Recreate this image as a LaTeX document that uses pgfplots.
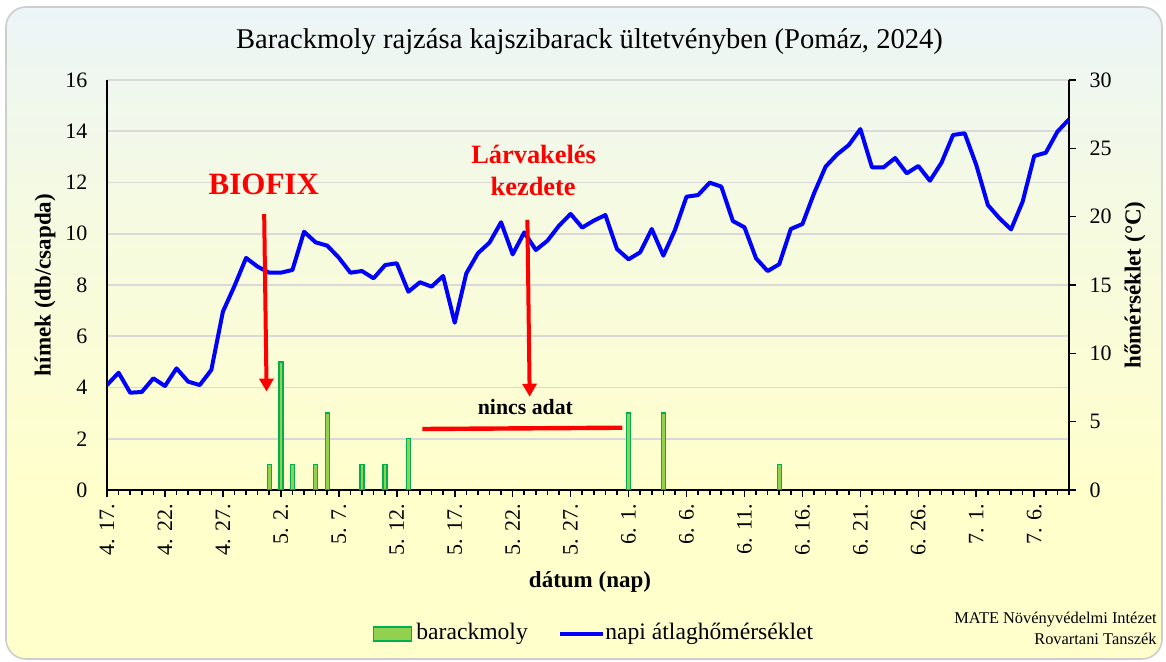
\documentclass[border=0pt]{standalone}
\usepackage{pgfplots}
\pgfplotsset{compat=1.18}
\usepackage{pgfplotstable}
\usepackage{fontspec}
\setmainfont{Liberation Serif}
\usetikzlibrary{arrows.meta}

\definecolor{barfill}{RGB}{146,208,80}
\definecolor{baredge}{RGB}{0,176,80}
\definecolor{gridc}{RGB}{217,217,217}
\definecolor{bgtop}{RGB}{236,245,247}
\definecolor{bgmid}{RGB}{245,250,226}
\definecolor{bgbot}{RGB}{255,255,204}
\definecolor{framec}{RGB}{205,205,205}

\pgfdeclareverticalshading{chartbg}{100bp}{color(0bp)=(bgbot); color(38bp)=(bgbot); color(60bp)=(bgmid); color(75bp)=(bgtop); color(100bp)=(bgtop)}

% day index: 0 = Apr 17
\pgfplotstableread{
x y
14 1
15 5
16 1
18 1
19 3
22 1
24 1
26 2
45 3
48 3
58 1
}\moths

\pgfplotstableread{
x t
0 7.68
1 8.58
2 7.12
3 7.17
4 8.17
5 7.61
6 8.90
7 7.93
8 7.68
9 8.78
10 13.05
11 14.93
12 16.98
13 16.34
14 15.90
15 15.90
16 16.10
17 18.90
18 18.12
19 17.88
20 17.00
21 15.90
22 16.02
23 15.49
24 16.46
25 16.59
26 14.51
27 15.20
28 14.88
29 15.66
30 12.24
31 15.85
32 17.32
33 18.10
34 19.59
35 17.24
36 18.85
37 17.56
38 18.24
39 19.34
40 20.20
41 19.20
42 19.71
43 20.12
44 17.63
45 16.88
46 17.39
47 19.10
48 17.15
49 19.02
50 21.46
51 21.58
52 22.49
53 22.20
54 19.68
55 19.22
56 16.95
57 16.02
58 16.52
59 19.10
60 19.46
61 21.70
62 23.66
63 24.56
64 25.24
65 26.41
66 23.61
67 23.61
68 24.29
69 23.17
70 23.71
71 22.63
72 23.95
73 25.98
74 26.10
75 23.78
76 20.85
77 19.88
78 19.07
79 21.10
80 24.44
81 24.68
82 26.22
83 27.12
}\temps

\begin{document}
\begin{tikzpicture}
\useasboundingbox (0,0) rectangle (583pt,331pt);
\fill[white] (0,0) rectangle (583pt,331pt);
\shade[shading=chartbg, rounded corners=10pt] (3pt,1.5pt) rectangle (581pt,327.5pt);
\draw[framec, line width=0.8pt, rounded corners=10pt] (3pt,1.5pt) rectangle (581pt,327.5pt);

\begin{axis}[
  at={(53.5pt,86pt)}, anchor=south west,
  scale only axis, width=481pt, height=205pt,
  xmin=0, xmax=83, ymin=0, ymax=16,
  axis x line*=bottom, axis y line*=left,
  axis line style={-, black, line width=0.9pt},
  xtick={0,5,...,80},
  xticklabels={4. 17.,4. 22.,4. 27.,5. 2.,5. 7.,5. 12.,5. 17.,5. 22.,5. 27.,6. 1.,6. 6.,6. 11.,6. 16.,6. 21.,6. 26.,7. 1.,7. 6.},
  minor xtick={0,...,83},
  tick align=outside,
  major tick length=3.6pt, minor tick length=2.4pt,
  tick style={black, line width=0.8pt},
  ytick={0,2,...,16}, ytick style={draw=none},
  ymajorgrids, grid style={gridc, line width=0.8pt},
  /pgf/number format/assume math mode=true,
  yticklabel style={font=\fontsize{11}{13}\selectfont, xshift=-2.7pt},
  xticklabel style={font=\fontsize{11}{13}\selectfont, rotate=90, anchor=east},
  ybar, bar width=2pt,
]
\addplot[fill=barfill, draw=baredge, line width=0.7pt] table[x=x, y=y] {\moths};
\coordinate (bioA) at (axis cs:13.56,10.77);
\coordinate (bioB) at (axis cs:13.77,3.84);
\coordinate (larA) at (axis cs:36.27,10.54);
\coordinate (larB) at (axis cs:36.47,3.64);
\coordinate (ncA) at (axis cs:27.2,2.38);
\coordinate (ncB) at (axis cs:44.46,2.43);
\coordinate (bioT) at (axis cs:13.53,11.54);
\coordinate (larT1) at (axis cs:36.81,12.75);
\coordinate (larT2) at (axis cs:36.77,11.51);
\coordinate (ncT) at (axis cs:36.1,2.93);
\end{axis}

\begin{axis}[
  at={(53.5pt,86pt)}, anchor=south west,
  scale only axis, width=481pt, height=205pt,
  xmin=0, xmax=83, ymin=0, ymax=30,
  axis x line=none, axis y line*=right,
  axis line style={-, black, line width=0.9pt},
  ytick={0,5,...,30},
  tick align=outside, major tick length=3.6pt,
  tick style={black, line width=0.8pt},
  /pgf/number format/assume math mode=true,
  yticklabel style={font=\fontsize{11}{13}\selectfont, xshift=3.2pt},
]
\addplot[blue, line width=2pt, line join=round, mark=none] table[x=x, y=t] {\temps};
\end{axis}

% annotations
\draw[red, line width=2pt, -{Triangle[width=7pt,length=6.5pt]}] (bioA) -- (bioB);
\draw[red, line width=2pt, -{Triangle[width=7pt,length=6.5pt]}] (larA) -- (larB);
\draw[red, line width=2.2pt] (ncA) -- (ncB);
\node[red, font=\fontsize{15.5}{18}\selectfont\bfseries, anchor=base, inner sep=0pt] at (bioT) {BIOFIX};
\node[red, font=\fontsize{13.2}{16}\selectfont\bfseries, anchor=base, inner sep=0pt] at (larT1) {Lárvakelés};
\node[red, font=\fontsize{13.2}{16}\selectfont\bfseries, anchor=base, inner sep=0pt] at (larT2) {kezdete};
\node[font=\fontsize{10.9}{13}\selectfont\bfseries, anchor=base, inner sep=0pt] at (ncT) {nincs adat};

% titles and axis labels
\node[font=\fontsize{14.3}{17}\selectfont, anchor=base] at (294.75pt,306.5pt) {Barackmoly rajzása kajszibarack ültetvényben (Pomáz, 2024)};
\node[font=\fontsize{11.5}{14}\selectfont\bfseries, anchor=base] at (295pt,37pt) {dátum (nap)};
\node[font=\fontsize{11.5}{14}\selectfont\bfseries, rotate=90] at (22.5pt,188.5pt) {hímek (db/csapda)};
\node[font=\fontsize{11.5}{14}\selectfont\bfseries, rotate=90] at (567.5pt,188.5pt) {hőmérséklet (°C)};

% legend
\draw[fill=barfill, draw=baredge, line width=0.8pt] (186.7pt,10.5pt) rectangle (205.75pt,17.5pt);
\node[font=\fontsize{11.8}{14}\selectfont, anchor=base west, inner sep=0pt] at (208pt,11.3pt) {barackmoly};
\draw[blue, line width=2pt] (280pt,14pt) -- (301.5pt,14pt);
\node[font=\fontsize{11.8}{14}\selectfont, anchor=base west, inner sep=0pt] at (302.5pt,11.3pt) {napi átlaghőmérséklet};

% credit
\node[font=\fontsize{8.2}{10}\selectfont, anchor=base east, inner sep=0pt] at (578.5pt,19pt) {MATE Növényvédelmi Intézet};
\node[font=\fontsize{8.2}{10}\selectfont, anchor=base east, inner sep=0pt] at (578.5pt,8.5pt) {Rovartani Tanszék};
\end{tikzpicture}
\end{document}
